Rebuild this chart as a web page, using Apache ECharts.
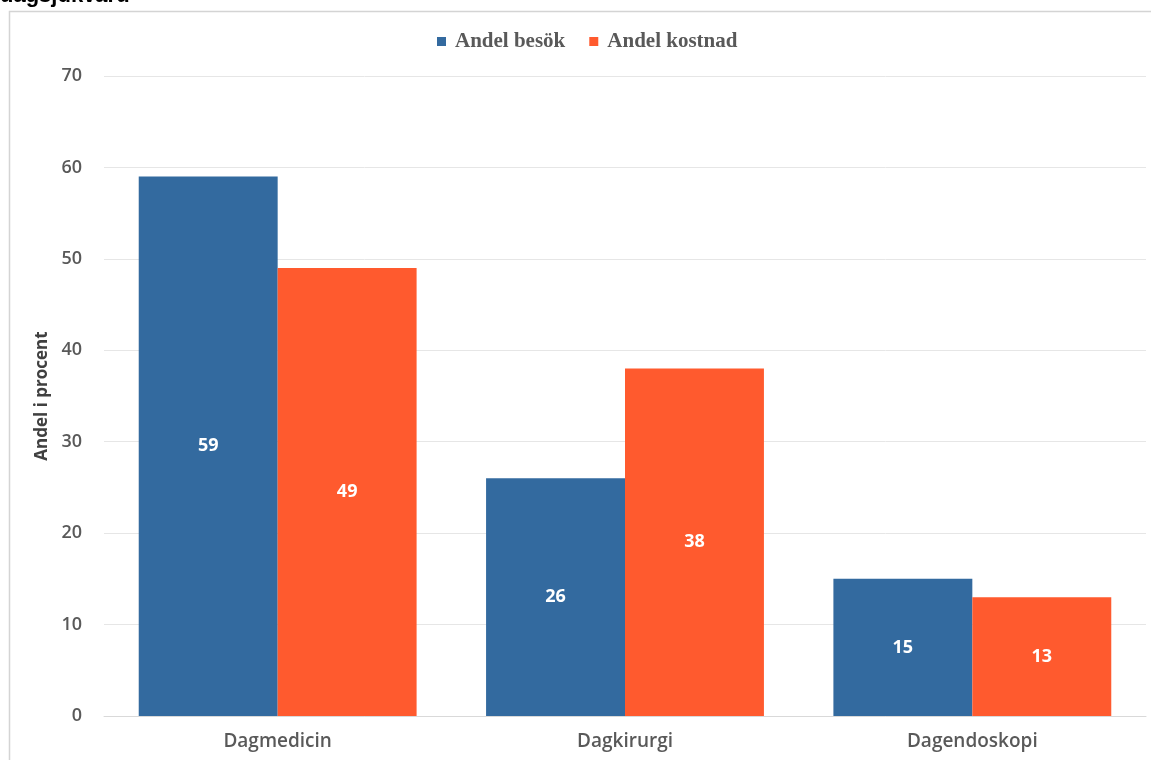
<!DOCTYPE html>
<html><head><meta charset="utf-8">
<style>html,body{margin:0;padding:0;background:#fff;}#c{width:1151px;height:760px;}</style>
<script src="https://cdn.jsdelivr.net/npm/echarts@6/dist/echarts.min.js"></script>
</head><body><div id="c"></div>
<script>
const categories = ['Dagmedicin', 'Dagkirurgi', 'Dagendoskopi'];
const seriesNames = ['Andel besök', 'Andel kostnad'];
const besok = [59, 26, 15];
const kostnad = [49, 38, 13];
const yTicks = { min: 0, max: 70, interval: 10 };

const chart = echarts.init(document.getElementById('c'));
const labelStyle = { show: true, position: 'inside', color: '#fff', fontFamily: 'Open Sans', fontWeight: 'bold', fontSize: 18 };
chart.setOption({
  animation: false,
  graphic: [
    { type: 'rect', shape: { x: 9.5, y: 11.5, width: 1160, height: 760 }, style: { fill: 'none', stroke: '#d4d4d4', lineWidth: 1.5 }, z: 0 },
    { type: 'text', left: 0, top: -15, style: { text: 'dagsjukvård', font: 'bold 22px "Liberation Sans", Arial', fill: '#000' } }
  ],
  legend: {
    top: 26, left: 432, itemWidth: 9, itemHeight: 9, itemGap: 24, icon: 'rect',
    textStyle: { fontFamily: '"Liberation Serif", "Times New Roman", serif', fontWeight: 'bold', fontSize: 21, color: '#595959', padding: [0, 0, 0, 4] },
    data: seriesNames
  },
  grid: { left: 104, right: 5, top: 76, bottom: 44, containLabel: false },
  xAxis: {
    type: 'category', data: categories,
    axisLine: { lineStyle: { color: '#d9d9d9' } }, axisTick: { show: false },
    axisLabel: { fontFamily: 'Open Sans', fontWeight: 600, fontSize: 19, color: '#595959', margin: 16 }
  },
  yAxis: {
    type: 'value', min: yTicks.min, max: yTicks.max, interval: yTicks.interval,
    name: 'Andel i procent', nameLocation: 'middle', nameGap: 52, nameRotate: 90,
    nameTextStyle: { fontFamily: 'Open Sans', fontWeight: 'bold', fontSize: 17, color: '#404040' },
    axisLine: { show: false }, axisTick: { show: false },
    axisLabel: { fontFamily: 'Open Sans', fontWeight: 600, fontSize: 18, color: '#595959', margin: 22 },
    splitLine: { lineStyle: { color: '#e6e6e6' } }
  },
  series: [
    { name: seriesNames[0], type: 'bar', data: besok, barGap: '0%', barCategoryGap: '20%', itemStyle: { color: '#336a9f' }, label: labelStyle },
    { name: seriesNames[1], type: 'bar', data: kostnad, itemStyle: { color: '#ff5a2e' }, label: labelStyle }
  ]
});
</script></body></html>
